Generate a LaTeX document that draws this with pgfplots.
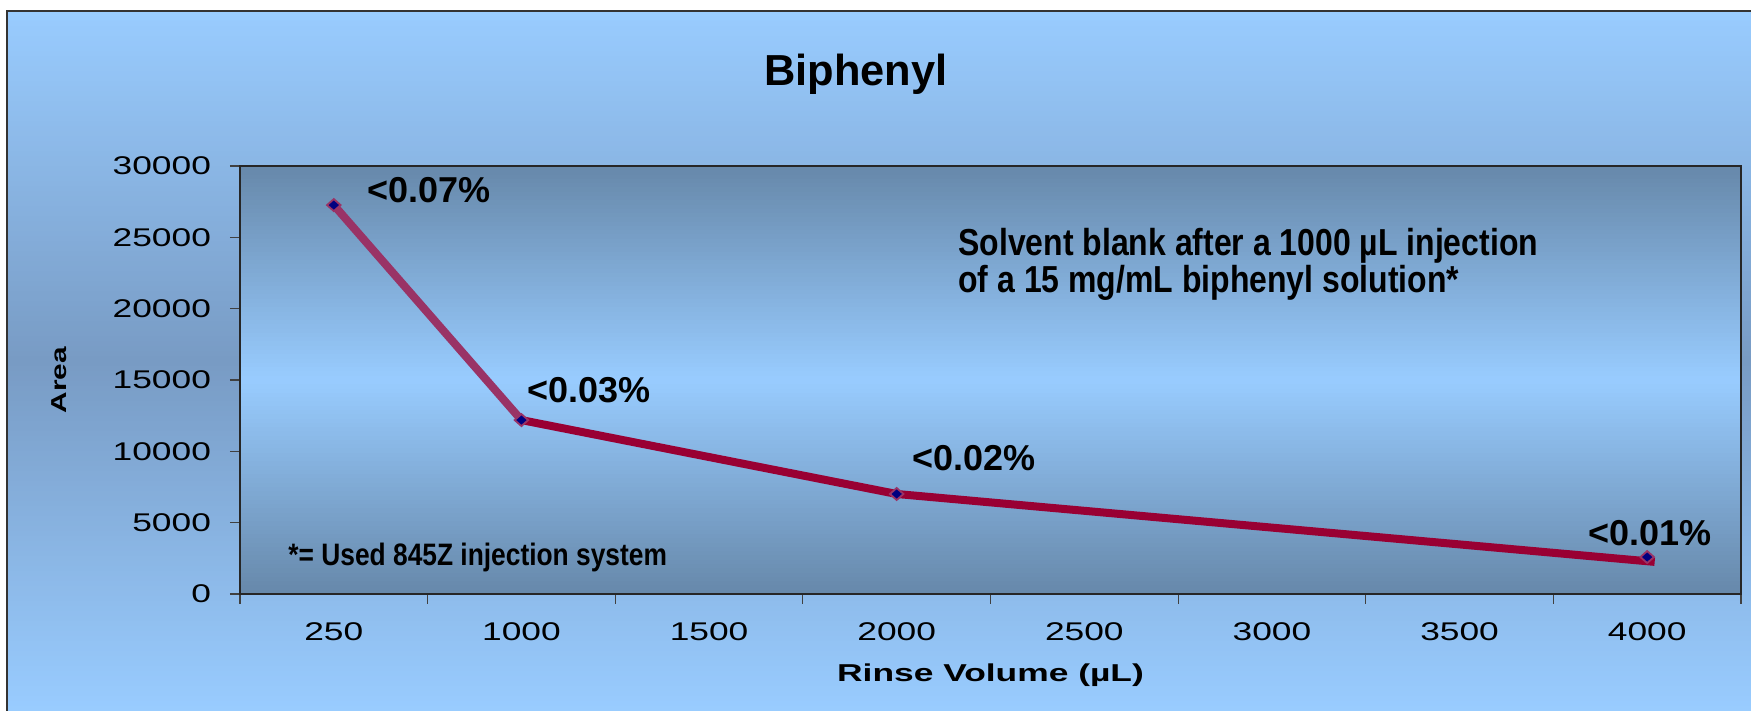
\documentclass[border=0pt]{standalone}
\usepackage{fontspec}
\setmainfont{Liberation Sans}
\newfontfamily\widefont{Liberation Sans}[FakeStretch=1.38]
\newfontfamily\labfont{Liberation Sans}[FakeStretch=1.45]
\newfontfamily\narrowfont{Liberation Sans}[FakeStretch=0.85]
\usepackage{pgfplots}
\pgfplotsset{compat=1.18}

\definecolor{segone}{HTML}{993366}
\definecolor{segtwo}{HTML}{990033}
\definecolor{navy}{HTML}{000080}
\definecolor{skyblue}{HTML}{99CCFF}
\definecolor{steel}{HTML}{6688AA}
\definecolor{outermid}{HTML}{789BC4}

\begin{document}
\begin{tikzpicture}
% page and outer chart area (gradient drawn as thin bands)
\fill[white] (-120pt,-58.5pt) rectangle (755.5pt,297pt);
\foreach \i in {0,...,139}{
  \pgfmathsetmacro\p{abs((\i+0.5)*2.5-175)/175*100}
  \pgfmathsetmacro\ya{-58.5+\i*2.5}
  \pgfmathsetmacro\yb{-58.5+(\i+1)*2.5+0.3}
  \fill[skyblue!\p!outermid] (-116.5pt,\ya pt) rectangle (755.5pt,\yb pt);
}
\fill[white] (-120pt,291.5pt) rectangle (755.5pt,297pt);
\draw[black!80, line width=0.8pt] (-116.5pt,-58.5pt) -- (-116.5pt,291.5pt) -- (755.5pt,291.5pt);
% plot area
\foreach \i in {0,...,99}{
  \pgfmathsetmacro\p{abs(\i+0.5-50)*2}
  \pgfmathsetmacro\ya{\i*2.14}
  \pgfmathsetmacro\yb{(\i+1)*2.14+0.3}
  \fill[steel!\p!skyblue] (0pt,\ya pt) rectangle (750.5pt,\yb pt);
}

\node[anchor=base, font=\bfseries\fontsize{21.7}{26}\selectfont] at (308pt,254pt) {Biphenyl};

\begin{axis}[
    scale only axis,
    width=750.5pt, height=214pt,
    xmin=-0.5, xmax=7.5,
    ymin=0, ymax=30000,
    xtick={-0.5,0.5,...,7.5},
    x tick label as interval,
    xticklabels={250,1000,1500,2000,2500,3000,3500,4000},
    ytick={0,5000,...,30000},
    tick pos=left,
    tick align=outside,
    major tick length=5pt,
    tick style={black!75, line width=0.6pt},
    axis line style={black!85, line width=0.8pt},
    scaled y ticks=false,
    /pgf/number format/1000 sep={},
    /pgf/number format/assume math mode=true,
    ticklabel style={font=\widefont\fontsize{12.8}{14}\selectfont, text=black},
    xticklabel style={anchor=base, yshift=-18.5pt},
    yticklabel style={anchor=east, xshift=-6pt},
    xlabel={Rinse Volume (µL)},
    xlabel style={font=\labfont\bfseries\fontsize{12.2}{14}\selectfont,
      at={(axis description cs:0.5,-0.2056)}, anchor=base},
    ylabel={Area},
    ylabel style={font=\widefont\bfseries\fontsize{10.8}{12}\selectfont,
      at={(axis description cs:-0.1206,0.5)}, anchor=center},
    clip=false,
  ]
  % first segment
  \addplot[color=segone, line width=4pt, line join=round] coordinates {
    (0,27260) (1,12190)
  };
  % remaining segments
  \addplot[color=segtwo, line width=4pt, line join=round] coordinates {
    (1,12190) (3,7010) (7.04,2250)
  };
  % markers
  \addplot[only marks, mark=diamond*, mark size=3pt,
    mark options={xscale=1.5, fill=navy, draw=segone, line width=0.9pt}] coordinates {
    (0,27260) (1,12190) (3,7010) (7,2590)
  };

  \begin{scope}[every node/.style={anchor=base west, inner sep=0pt,
      font=\bfseries\fontsize{18}{21}\selectfont}]
    \node at (axis cs:0.177,27470) {<0.07\%};
    \node at (axis cs:1.03,13455) {<0.03\%};
    \node at (axis cs:3.08,8690) {<0.02\%};
    \node at (axis cs:6.685,3434) {<0.01\%};
  \end{scope}

  \begin{scope}[every node/.style={anchor=base west, inner sep=0pt,
      font=\narrowfont\bfseries\fontsize{18.8}{22}\selectfont}]
    \node at (axis cs:3.327,23700) {Solvent blank after a 1000 µL injection};
    \node at (axis cs:3.327,21100) {of a 15 mg/mL biphenyl solution*};
  \end{scope}
  \node[anchor=base west, inner sep=0pt,
    font=\narrowfont\bfseries\fontsize{15.5}{18}\selectfont]
    at (axis cs:-0.244,2030) {*= Used 845Z injection system};
\end{axis}
\pgfresetboundingbox
\path (-120pt,-58.5pt) rectangle (755.5pt,297pt);
\end{tikzpicture}
\end{document}
